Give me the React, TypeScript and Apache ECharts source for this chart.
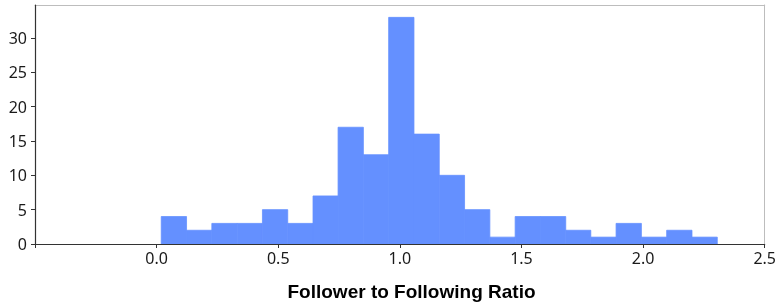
import React, { useEffect, useRef } from "react";
import * as echarts from "echarts";

const binEdges = [0.019, 0.123, 0.227, 0.331, 0.435, 0.539, 0.643, 0.746, 0.85, 0.954, 1.058, 1.162, 1.266, 1.37, 1.474, 1.578, 1.682, 1.785, 1.889, 1.993, 2.097, 2.201, 2.305];
const counts = [4, 2, 3, 3, 5, 3, 7, 17, 13, 33, 16, 10, 5, 1, 4, 4, 2, 1, 3, 1, 2, 1];
const xTickLabels = ["0.0", "0.5", "1.0", "1.5", "2.0", "2.5"];
const yTickLabels = ["0", "5", "10", "15", "20", "25", "30"];
const xTitle = "Follower to Following Ratio";

export default function App() {
  const ref = useRef<HTMLDivElement>(null);
  useEffect(() => {
    if (!ref.current) return;
    const chart = echarts.init(ref.current, null, { renderer: "svg" });
    const data = counts.map((c, i) => [binEdges[i], binEdges[i + 1], c]);
    const tickFont = { fontFamily: "Noto Sans", fontSize: 16, color: "#1a1a1a" };
    const frame = {
      show: true,
      onZero: false,
      lineStyle: { color: "#bdbdbd", width: 1 },
    };
    chart.setOption({
      animation: false,
      grid: { left: 35, right: 11, top: 5, bottom: 61 },
      xAxis: [
        {
          type: "value",
          min: -0.5,
          max: 2.5,
          interval: 0.5,
          splitLine: { show: false },
          axisLine: { show: true, onZero: false, lineStyle: { color: "#333", width: 1.2 } },
          axisTick: { show: true, length: 4, lineStyle: { color: "#333" } },
          axisLabel: {
            ...tickFont,
            margin: 6,
            formatter: (v: number) => {
              const s = v.toFixed(1);
              return xTickLabels.includes(s) ? s : "";
            },
          },
          z: 5,
        },
        {
          type: "value",
          position: "top",
          min: -0.5,
          max: 2.5,
          splitLine: { show: false },
          axisLine: frame,
          axisTick: { show: false },
          axisLabel: { show: false },
        },
      ],
      yAxis: [
        {
          type: "value",
          min: 0,
          max: 34.8,
          interval: 5,
          splitLine: { show: false },
          axisLine: { show: true, onZero: false, lineStyle: { color: "#333", width: 1.2 } },
          axisTick: { show: true, length: 4, lineStyle: { color: "#333" } },
          axisLabel: {
            ...tickFont,
            margin: 8,
            showMaxLabel: false,
            formatter: (v: number) => (yTickLabels.includes(String(v)) ? String(v) : ""),
          },
          z: 5,
        },
        {
          type: "value",
          position: "right",
          min: 0,
          max: 34.8,
          splitLine: { show: false },
          axisLine: frame,
          axisTick: { show: false },
          axisLabel: { show: false },
        },
      ],
      graphic: [
        {
          type: "text",
          x: 411.5,
          y: 291,
          style: {
            text: xTitle,
            align: "center",
            verticalAlign: "middle",
            fontFamily: "Liberation Sans",
            fontWeight: "bold",
            fontSize: 19,
            fill: "#000",
          },
        },
      ],
      series: [
        {
          type: "custom",
          data,
          xAxisIndex: 0,
          yAxisIndex: 0,
          encode: { x: [0, 1], y: 2 },
          renderItem: (params: any, api: any) => {
            const p0 = api.coord([api.value(0), 0]);
            const p1 = api.coord([api.value(1), api.value(2)]);
            return {
              type: "rect",
              shape: { x: p0[0], y: p1[1], width: p1[0] - p0[0], height: p0[1] - p1[1] },
              style: { fill: "#6490FF", stroke: "#6490FF", lineWidth: 0.8 },
            };
          },
        },
      ],
    });
    return () => chart.dispose();
  }, []);
  return <div ref={ref} style={{ position: "fixed", left: 0, top: 0, width: 779, height: 305 }} />;
}
